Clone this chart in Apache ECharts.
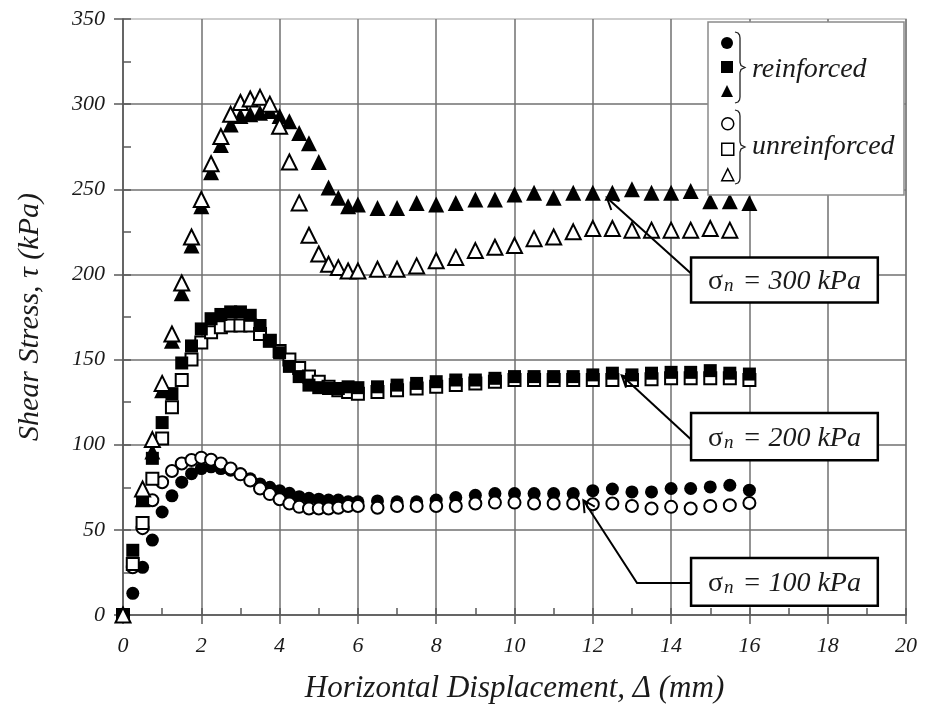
<!DOCTYPE html>
<html><head><meta charset="utf-8">
<script src="https://cdn.jsdelivr.net/npm/echarts@6/dist/echarts.min.js"></script>
<style>html,body{margin:0;padding:0;background:#fff}#c{width:925px;height:711px}</style>
</head><body><div id="c"></div>
<script>
// ---- data (horizontal displacement in mm, shear stress in kPa) ----
const displacement = [0,0.25,0.5,0.75,1,1.25,1.5,1.75,2,2.25,2.5,2.75,3,3.25,3.5,3.75,4,4.25,4.5,4.75,5,5.25,5.5,5.75,6,6.5,7,7.5,8,8.5,9,9.5,10,10.5,11,11.5,12,12.5,13,13.5,14,14.5,15,15.5,16];

const reinforced100 = [0,12.7,28,44,60.5,70,78,83,86,87,86,85,83,80,77,75,73,71.5,69.5,68.5,68,67.5,67.5,66.5,66.5,67,66.5,66.5,67.5,69,70.3,71.3,71.3,71.3,71.3,71.3,73,74,72.3,72.3,74.3,74.3,75.2,76.2,73.3];
const unreinforced100 = [0,28,51,67.4,78,84.6,89,91,92.4,91.2,89,86,82.6,79,74.3,71,68,65.5,63.5,62.5,62.5,62.5,63,64,64,63,64,64,64,64,65.5,66,66,65.5,65.5,65.5,65,65.5,64,62.5,63.5,62.5,64,64.5,65.8];

const reinforced200 = [0,38,68,92,113,130,148,158,168,174,176.5,178,178,176,170,161,154,146,140,135,133.5,133,133,134,133.5,134,135,136,137,138,138,139,140,140,140,140,141,142,141,142,142.5,142.5,143.5,142,141.5];
const unreinforced200 = [0,30,54,80,103.6,122,138,150,160,166,169,170,170,170,165,161,155,150,145,140,137,134,132,131,130,131,132,133,134,135,136,137,138,138,138,138,138,138,138,138.5,139,139,139,139,138];

const reinforced300 = [0,null,68,96,132,161,189,217,240,260,276,288,293,294,295,296,293,290,283,277,266,251,245,240,241,239,239,242,241,242,244,244,247,248,245,248,248,248,250,248,248,249,243,243,242];
const unreinforced300 = [0,null,74,103,136,165,195,222,244,265,281,294,301,303,304,300,287,266,242,223,212,206,204,202,202,203,203,205,208,210,214,216,217,221,222,225,227,227,226,226,226,226,227,226,null];

const normalStressLabels = ['300 kPa', '200 kPa', '100 kPa'];
const groupLabels = ['reinforced', 'unreinforced'];
const xAxisTitle = 'Horizontal Displacement, \u0394 (mm)';
const yAxisTitle = 'Shear Stress, \u03c4 (kPa)';

// ---- chart ----
const chart = echarts.init(document.getElementById('c'), null, {renderer: 'canvas'});
const SERIF = '"Liberation Serif", "Times New Roman", serif';
const AX = '#5a5a5a';

function pts(ys) {
  return displacement.map((x, i) => ys[i] == null ? null : [x, ys[i]]).filter(Boolean);
}
const filled = {color: '#000', opacity: 1};
const hollow = {color: '#fff', borderColor: '#000', borderWidth: 2, opacity: 1};

const series = [
  {name: 'reinforced 100', symbol: 'circle', symbolSize: 13, itemStyle: filled, z: 2, data: pts(reinforced100)},
  {name: 'unreinforced 100', symbol: 'circle', symbolSize: 12, itemStyle: hollow, z: 3, data: pts(unreinforced100)},
  {name: 'unreinforced 200', symbol: 'rect', symbolSize: 12, itemStyle: hollow, z: 4, data: pts(unreinforced200)},
  {name: 'reinforced 200', symbol: 'rect', symbolSize: 13, itemStyle: filled, z: 5, data: pts(reinforced200)},
  {name: 'reinforced 300', symbol: 'triangle', symbolSize: 16, itemStyle: filled, z: 6, data: pts(reinforced300)},
  {name: 'unreinforced 300', symbol: 'triangle', symbolSize: 15, itemStyle: hollow, z: 7, data: pts(unreinforced300)}
].map(s => Object.assign({type: 'scatter', xAxisIndex: 0, yAxisIndex: 0, animation: false}, s));

const gridPos = {left: 123, right: 19, top: 19, bottom: 96};
const tickLine = {color: AX, width: 1.5};

const option = {
  backgroundColor: '#fff',
  animation: false,
  grid: [Object.assign({show: true, borderColor: '#bdbdbd', borderWidth: 1.5, backgroundColor: 'transparent'}, gridPos), Object.assign({}, gridPos)],
  xAxis: [
    {type: 'value', gridIndex: 0, min: 0, max: 20, interval: 2,
     axisLine: {show: true, onZero: false, lineStyle: {color: AX, width: 1.5}},
     axisTick: {show: true, inside: false, length: 9, lineStyle: tickLine},
     axisLabel: {margin: 20, fontFamily: SERIF, fontStyle: 'italic', fontSize: 22, color: '#1a1a1a'},
     splitLine: {show: true, lineStyle: {color: '#707070', width: 1.5}},
     name: xAxisTitle, nameLocation: 'middle', nameGap: 58,
     nameTextStyle: {fontFamily: SERIF, fontStyle: 'italic', fontSize: 31, color: '#1a1a1a'}},
    {type: 'value', gridIndex: 1, min: 0, max: 20, interval: 2,
     axisLine: {show: false, onZero: false},
     axisTick: {show: true, inside: true, length: 7, lineStyle: tickLine},
     minorTick: {show: true, splitNumber: 2, length: 7, lineStyle: tickLine},
     axisLabel: {show: false}, splitLine: {show: false}}
  ],
  yAxis: [
    {type: 'value', gridIndex: 0, min: 0, max: 350, interval: 50,
     axisLine: {show: true, onZero: false, lineStyle: {color: AX, width: 1.5}},
     axisTick: {show: true, inside: false, length: 9, lineStyle: tickLine},
     axisLabel: {margin: 18, fontFamily: SERIF, fontStyle: 'italic', fontSize: 22, color: '#1a1a1a'},
     splitLine: {show: true, showMaxLine: false, lineStyle: {color: '#707070', width: 1.5}},
     name: yAxisTitle, nameLocation: 'middle', nameGap: 78, nameRotate: 90,
     nameTextStyle: {fontFamily: SERIF, fontStyle: 'italic', fontSize: 30, color: '#1a1a1a'}},
    {type: 'value', gridIndex: 1, min: 0, max: 350, interval: 50,
     axisLine: {show: false, onZero: false},
     axisTick: {show: true, inside: true, length: 8, lineStyle: tickLine},
     minorTick: {show: true, splitNumber: 2, length: 8, lineStyle: tickLine},
     axisLabel: {show: false}, splitLine: {show: false}}
  ],
  legend: [
    {data: ['reinforced 100', 'reinforced 200', 'reinforced 300'], orient: 'vertical', left: 721, top: 37, padding: 0,
     itemWidth: 12, itemHeight: 12, itemGap: 12, formatter: () => '', selectedMode: false, z: 20,
     textStyle: {fontSize: 1}},
    {data: ['unreinforced 100', 'unreinforced 200', 'unreinforced 300'], orient: 'vertical', left: 721, top: 117, padding: 0,
     itemWidth: 12, itemHeight: 12, itemGap: 12, formatter: () => '', selectedMode: false, z: 20,
     textStyle: {fontSize: 1}, itemStyle: {borderWidth: 1.5}}
  ],
  series: series
};
chart.setOption(option);

// ---- annotations, anchored in data coordinates ----
const annotations = [
  {tip: [12.36, 245], path: [[14.51, 200.5]], box: [14.51, 210, 19.28, 183.5]},
  {tip: [12.74, 140.7], path: [[14.51, 103]], box: [14.51, 118.6, 19.28, 90.9]},
  {tip: [11.76, 67.4], path: [[13.13, 18.8], [14.51, 18.8]], box: [14.51, 33.5, 19.28, 5.5]}
];
const P = (p) => chart.convertToPixel({gridIndex: 0}, p);
const graphics = [];

// legend frame and braces
graphics.push({type: 'rect', shape: {x: 708, y: 22, width: 196, height: 173},
  style: {fill: '#fff', stroke: '#8a8a8a', lineWidth: 1.5}, z: 15});
function brace(y0, y1) {
  const ym = (y0 + y1) / 2;
  return {type: 'polyline', shape: {points: [
    [735, y0], [738, y0 + 1], [739.5, y0 + 3], [740, y0 + 6], [740, ym - 5], [741, ym - 2], [745, ym],
    [741, ym + 2], [740, ym + 5], [740, y1 - 6], [739.5, y1 - 3], [738, y1 - 1], [735, y1]]},
    style: {stroke: '#222', lineWidth: 1.3, fill: null}, z: 21};
}
graphics.push(brace(32, 103));
graphics.push(brace(110, 184));
graphics.push({type: 'text', x: 752, y: 70, z: 21,
  style: {text: groupLabels[0], font: 'italic 28px ' + SERIF, fill: '#1a1a1a', align: 'left', verticalAlign: 'middle'}});
graphics.push({type: 'text', x: 752, y: 147, z: 21,
  style: {text: groupLabels[1], font: 'italic 28px ' + SERIF, fill: '#1a1a1a', align: 'left', verticalAlign: 'middle'}});

annotations.forEach((a, i) => {
  const tip = P(a.tip);
  const pathPx = a.path.map(P);
  const line = [tip].concat(pathPx);
  graphics.push({type: 'polyline', shape: {points: line}, style: {stroke: '#000', lineWidth: 2, fill: null}, z: 12});
  const nx = pathPx[0][0] - tip[0], ny = pathPx[0][1] - tip[1];
  const len = Math.hypot(nx, ny), ux = nx / len, uy = ny / len;
  const ang = 28 * Math.PI / 180, L = 13;
  const r1 = [tip[0] + L * (ux * Math.cos(ang) - uy * Math.sin(ang)), tip[1] + L * (ux * Math.sin(ang) + uy * Math.cos(ang))];
  const r2 = [tip[0] + L * (ux * Math.cos(-ang) - uy * Math.sin(-ang)), tip[1] + L * (ux * Math.sin(-ang) + uy * Math.cos(-ang))];
  graphics.push({type: 'polyline', shape: {points: [r1, tip, r2]}, style: {stroke: '#000', lineWidth: 2, fill: null}, z: 12});
  const b0 = P([a.box[0], a.box[1]]), b1 = P([a.box[2], a.box[3]]);
  graphics.push({type: 'rect', shape: {x: b0[0], y: b0[1], width: b1[0] - b0[0], height: b1[1] - b0[1]},
    style: {fill: '#fff', stroke: '#000', lineWidth: 2.5}, z: 13});
  graphics.push({type: 'text', x: (b0[0] + b1[0]) / 2, y: (b0[1] + b1[1]) / 2 + 1, z: 14,
    style: {text: '{s|\u03c3}{n|n}{t| = ' + normalStressLabels[i] + '}', align: 'center', verticalAlign: 'middle',
      rich: {
        s: {font: '28px ' + SERIF, fill: '#1a1a1a', lineHeight: 30, verticalAlign: 'bottom'},
        n: {font: 'italic 19px ' + SERIF, fill: '#1a1a1a', lineHeight: 30, verticalAlign: 'bottom', padding: [0, 2, 0, 1]},
        t: {font: 'italic 28px ' + SERIF, fill: '#1a1a1a', lineHeight: 30, verticalAlign: 'bottom'}
      }}});
});
chart.setOption({graphic: {elements: graphics}});
</script>
</body></html>
